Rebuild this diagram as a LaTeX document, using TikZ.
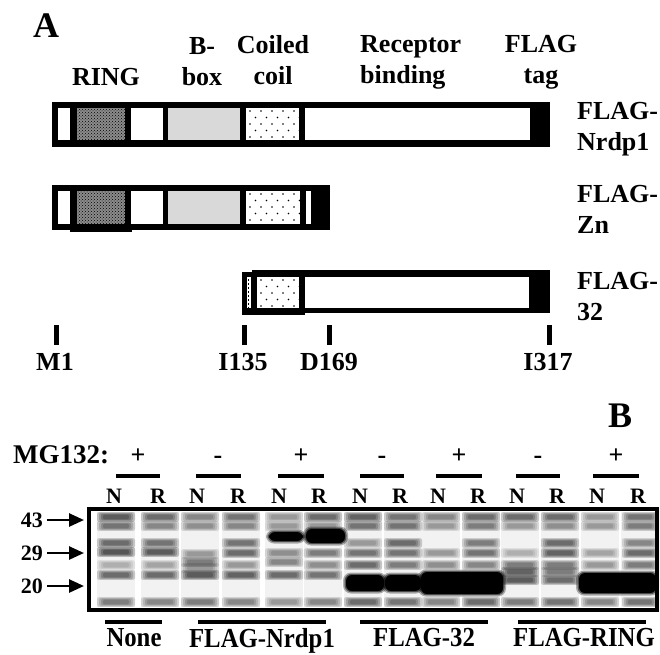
\documentclass[tikz,border=0pt]{standalone}
\usepackage{fontspec}
\setmainfont{Liberation Serif}
\newfontfamily\condfont{Liberation Serif}[FakeStretch=0.9]
\usetikzlibrary{patterns,arrows.meta}
\newcommand{\gband}[5]{%
  \foreach \k in {0,1,2,3}{%
    \fill[black,opacity=0.3*#5,rounded corners=2pt] ({#1-#3/2+2*\k},{#2-#4/2-1.8+0.8*\k}) rectangle ({#1+#3/2-2*\k},{#2+#4/2+1.8-0.8*\k});
  }%
}
\newcommand{\bigband}[4]{%
  \fill[black,opacity=0.3,rounded corners=8pt] ({#1-3},{#2-2.5}) rectangle ({#3+3},{#4+2.5});
  \fill[black,opacity=0.5,rounded corners=7pt] ({#1-1.5},{#2-1.2}) rectangle ({#3+1.5},{#4+1.2});
  \fill[black,rounded corners=6pt] (#1,#2) rectangle (#3,#4);
}
\newcommand{\ccdots}[4]{%
  \begin{scope}
  \clip (#1,#2) rectangle (#3,#4);
  \foreach \r in {0,...,5}{
    \foreach \c in {0,...,6}{
      \fill[black] ({#1+4+\c*11+mod(\r,2)*5.5},{#2+3+\r*6.5}) circle (0.9);
    }
  }
  \end{scope}
}
\newcommand{\ringcell}[4]{%
  \fill[black!45] (#1,#2) rectangle (#3,#4);
  \fill[pattern=crosshatch dots,pattern color=black] (#1,#2) rectangle (#3,#4);
}
\begin{document}
\begin{tikzpicture}[x=1pt,y=-1pt,
  txt/.style={inner sep=0pt,font=\fontsize{26}{31}\selectfont\bfseries},
  bot/.style={inner sep=0pt,font=\condfont\fontsize{27.5}{31}\selectfont\bfseries},
  bigl/.style={inner sep=0pt,font=\fontsize{36}{40}\selectfont\bfseries},
  lane/.style={inner sep=0pt,font=\fontsize{22}{24}\selectfont\bfseries},
  mwarrow/.style={line width=2.6pt,-{Triangle[length=15pt,width=13pt]}}]
\useasboundingbox[fill=white] (0,0) rectangle (660,654);

% ---------------- panel A ----------------
\node[bigl,anchor=north west] (lA) at (33,14) {A};
\node[txt,anchor=north,align=center] (hB) at (202,37) {B-\\box};
\node[txt,anchor=north,align=center] (hC) at (273,35) {Coiled\\coil};
\node[txt,anchor=north west,align=left] (hR) at (360,35) {Receptor\\binding};
\node[txt,anchor=north,align=center] (hF) at (541,35) {FLAG\\tag};
\node[txt,anchor=north] (hRING) at (106,68) {RING};

% bar 1 : FLAG-Nrdp1
\fill[black] (52,102) rectangle (550,147);
\fill[white] (58,108) rectangle (70,140);
\ringcell{77}{108}{125}{140}
\fill[white] (131,108) rectangle (163,140);
\fill[black!15] (168,108) rectangle (240,140);
\fill[white] (246,108) rectangle (299,140);
\ccdots{246}{108}{299}{140}
\fill[white] (305,108) rectangle (530,140);

% bar 2 : FLAG-Zn
\fill[black] (52,185) rectangle (330,230);
\fill[black] (70,229) rectangle (132,231.5);
\fill[white] (58,191) rectangle (70,224);
\ringcell{77}{191}{125}{224}
\fill[white] (131,191) rectangle (163,224);
\fill[black!15] (168,191) rectangle (240,224);
\fill[white] (246,191) rectangle (300,224);
\ccdots{246}{191}{300}{224}
\fill[white] (306,191) rectangle (311,224);

% bar 3 : FLAG-32
\fill[black] (242,272) rectangle (252,315);
\fill[black] (252,270) rectangle (550,313);
\fill[black] (252,313) rectangle (305,315);
\fill[white] (247,277) rectangle (251,308);
\foreach \k in {0,...,7} \fill[black] (247.8,{279+\k*4}) rectangle (249,{280.5+\k*4});
\fill[white] (257,277) rectangle (299,308);
\ccdots{257}{277}{299}{308}
\fill[white] (305,277) rectangle (529,308);

% right labels
\node[txt,anchor=north west,align=left] (nN) at (577,102) {FLAG-\\Nrdp1};
\node[txt,anchor=north west,align=left] (nZ) at (577,185) {FLAG-\\Zn};
\node[txt,anchor=north west,align=left] (n3) at (577,272) {FLAG-\\32};

% residue ticks
\foreach \x in {56,244.5,329.5,549} \fill[black] ({\x-2.5},325) rectangle ({\x+2.5},345);
\node[txt,anchor=north] (tM) at (55,353) {M1};
\node[txt,anchor=north] (tI) at (243,353) {I135};
\node[txt,anchor=north] (tD) at (329,353) {D169};
\node[txt,anchor=north] (tE) at (548,353) {I317};

% ---------------- panel B ----------------
\node[inner sep=0pt,font=\fontsize{36}{40}\selectfont\bfseries,anchor=north west] (lB) at (608,404) {B};
\node[inner sep=0pt,font=\fontsize{27}{31}\selectfont\bfseries,anchor=base west] (mg) at (13,463) {MG132:};
\foreach \x/\s/\a/\b [count=\i] in {138/+/116/160, 218/-/196/241, 301/+/278/324, 382/-/360/404, 459/+/436/482, 538/-/516/560, 616/+/593/639}{
  \node[txt,anchor=base] (sg\i) at (\x,463) {\s};
  \fill[black] (\a,474) rectangle (\b,478);
}
\foreach \x/\t [count=\i] in {114/N,158/R,197/N,238/R,279/N,319/R,360/N,400/R,438/N,478/R,517/N,557/R,597/N,638/R}{
  \node[lane,anchor=base] (ln\i) at (\x,503) {\t};
}

% gel bands
\foreach \x in {116,160,200,241,284,323,363,403,441,481,520,560,600,640}
  \fill[black,opacity=0.05] ({\x-19},512) rectangle ({\x+19},607);
\foreach \y/\o in {517/.7,526/.55,543/.6,552/.75,565/.25,575/.6,602/.5}{\gband{116}{\y}{38}{6}{\o}}
\foreach \y/\o in {517/.6,526/.45,543/.55,552/.7,565/.3,575/.6,602/.45}{\gband{160}{\y}{38}{6}{\o}}
\foreach \y/\o in {517/.45,526/.4,554/.35,562/.5,568/.35,575/.7,602/.5}{\gband{200}{\y}{38}{6}{\o}}
\foreach \y/\o in {517/.55,526/.45,543/.55,553/.6,565/.35,575/.65,602/.45}{\gband{241}{\y}{38}{6}{\o}}
\foreach \y/\o in {517/.35,526/.35,553/.4,562/.45,575/.6,602/.35}{\gband{284}{\y}{38}{6}{\o}}
\foreach \y/\o in {517/.6,526/.35,553/.5,565/.4,575/.55,602/.45}{\gband{323}{\y}{38}{6}{\o}}
\foreach \y/\o in {517/.65,526/.55,543/.35,553/.55,565/.6,602/.6}{\gband{363}{\y}{38}{6}{\o}}
\foreach \y/\o in {517/.55,526/.55,543/.6,553/.55,565/.5,602/.55}{\gband{403}{\y}{38}{6}{\o}}
\foreach \y/\o in {517/.45,526/.35,553/.35,565/.4,602/.45}{\gband{441}{\y}{38}{6}{\o}}
\foreach \y/\o in {517/.6,526/.5,543/.5,553/.55,565/.45,602/.6}{\gband{481}{\y}{38}{6}{\o}}
\foreach \y/\o in {517/.6,526/.35,553/.25,565/.5,572/.65,580/.7,602/.5}{\gband{520}{\y}{38}{6}{\o}}
\foreach \y/\o in {517/.6,526/.4,543/.6,553/.65,565/.5,572/.5,580/.6,602/.55}{\gband{560}{\y}{38}{6}{\o}}
\foreach \y/\o in {517/.35,526/.35,553/.3,565/.35,602/.45}{\gband{600}{\y}{38}{6}{\o}}
\foreach \y/\o in {517/.55,526/.5,543/.45,553/.6,565/.5,602/.55}{\gband{640}{\y}{36}{6}{\o}}
\bigband{269}{532}{303}{541}
\bigband{306}{529}{345}{543}
\bigband{346}{575}{384}{591}
\bigband{385}{575}{421}{591}
\bigband{421}{572}{503}{594}
\bigband{579}{573}{656}{593}
\draw[line width=4pt] (89,509) rectangle (657,610);

% size markers
\node[lane,anchor=base east] (m43) at (43,527) {43};
\node[lane,anchor=base east] (m29) at (43,560) {29};
\node[lane,anchor=base east] (m20) at (43,593) {20};
\coordinate (a43) at (84,520);
\coordinate (a29) at (84,553);
\coordinate (a20) at (84,586);
\draw[mwarrow] (m43.east |- a43) ++(4,0) -- (a43);
\draw[mwarrow] (m29.east |- a29) ++(4,0) -- (a29);
\draw[mwarrow] (m20.east |- a20) ++(4,0) -- (a20);

% sample groups
\fill[black] (105,620) rectangle (162,624);
\fill[black] (198,620) rectangle (326,624);
\fill[black] (360,620) rectangle (488,624);
\fill[black] (518,620) rectangle (646,624);
\node[bot,anchor=north] (gN) at (134,628) {None};
\node[bot,anchor=north] (gF) at (262,628) {FLAG-Nrdp1};
\node[bot,anchor=north] (g3) at (424,628) {FLAG-32};
\node[bot,anchor=north] (gR) at (584,628) {FLAG-RING};
\end{tikzpicture}
\end{document}
